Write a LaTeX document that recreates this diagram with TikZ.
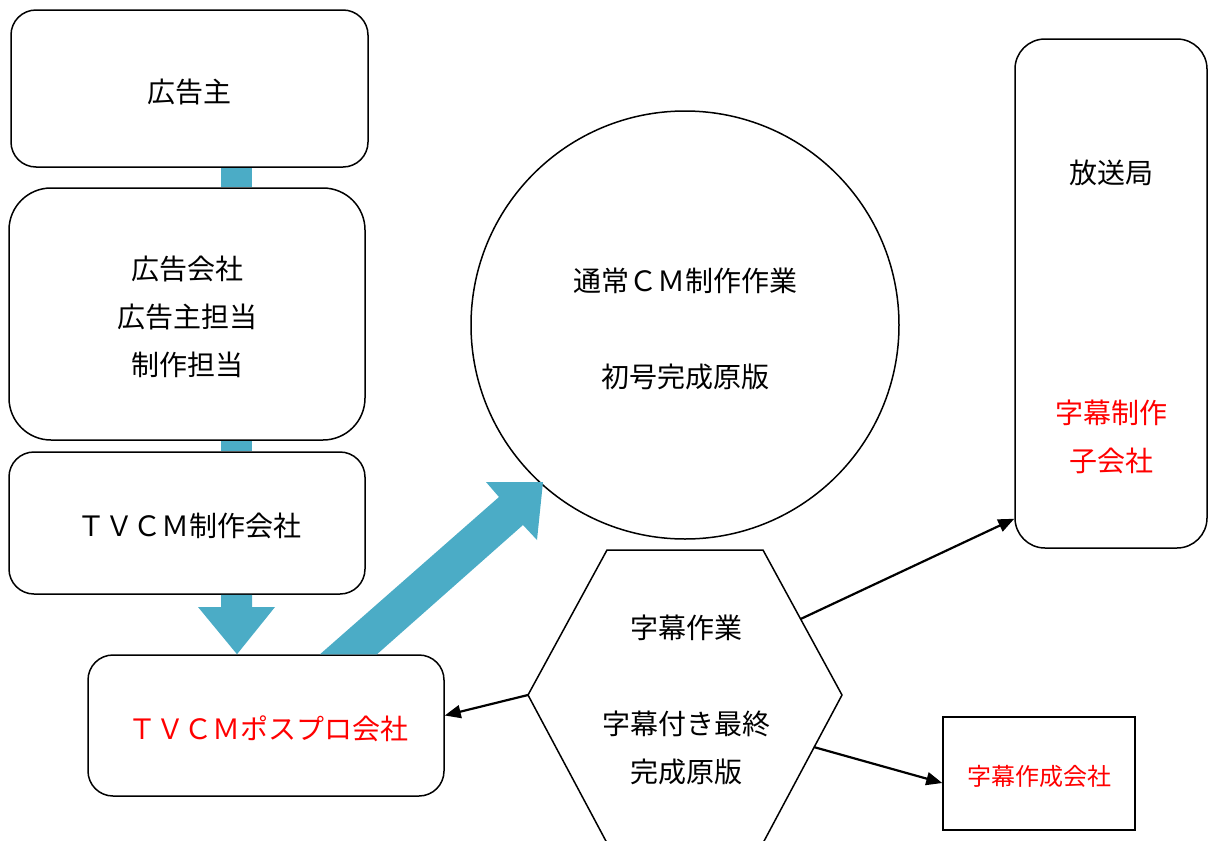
\documentclass[tikz,border=0pt]{standalone}
\usepackage{fontspec}
\newfontfamily\jp{Noto Sans CJK JP}
\usetikzlibrary{arrows.meta}
\definecolor{flow}{HTML}{4BACC6}
\definecolor{redtxt}{HTML}{FF0000}
\begin{document}
\begin{tikzpicture}[x=1pt,y=-1pt,
  box/.style={draw, line width=1.5pt, rounded corners=25pt, inner sep=0pt},
  lbl/.style={font=\jp\fontsize{28}{48}\selectfont, align=center, inner sep=0pt},
  small/.style={font=\jp\fontsize{24}{30}\selectfont, align=center, inner sep=0pt},
  link/.style={line width=2.2pt, -{Triangle[length=16pt,width=13pt]}}]
\useasboundingbox (0,0) rectangle (1208,841);
% boxes
\node[box, minimum width=357pt, minimum height=157pt] (adv) at (189.5,88.5) {};
\node[lbl] (advlbl) at ([yshift=-3pt]adv.center) {広告主};
\node[box, rounded corners=42pt, minimum width=356pt, minimum height=252pt] (agency) at (187,314) {};
\node[lbl] (agencylbl) at (187,317) {広告会社\\広告主担当\\制作担当};
\node[box, minimum width=356pt, minimum height=142pt] (tvcm) at (187,523) {};
\node[lbl] (tvcmlbl) at (189,526) {ＴＶＣＭ制作会社};
\node[box, minimum width=356pt, minimum height=141pt] (post) at (266,725.5) {};
\node[lbl, text=redtxt] (postlbl) at (268,729) {ＴＶＣＭポスプロ会社};
\node[draw, circle, line width=1.5pt, minimum size=428pt] (circ) at (685,325) {};
\node[lbl] (circlbl) at (685,328.5) {通常ＣＭ制作作業\\[48pt]初号完成原版};
\node[box, rounded corners=30pt, minimum width=192pt, minimum height=509pt] (station) at (1111,293.5) {};
\node[lbl] (stationlbl) at (1111,173) {放送局};
\node[lbl, text=redtxt] (sublbl) at (1111,437) {字幕制作\\子会社};
\node[draw, line width=1.5pt, minimum width=192pt, minimum height=113pt, inner sep=0pt] (sub) at (1039,773.5) {};
\node[small, text=redtxt] (sublabel) at (1039,776) {字幕作成会社};
% hexagon
\coordinate (hL) at (528,695);
\coordinate (hTL) at (607,550);
\coordinate (hTR) at (763,550);
\coordinate (hR) at (842,695);
\coordinate (hBR) at (763,843);
\coordinate (hBL) at (607,843);
\draw[line width=1.5pt, line join=miter] (hL) -- (hTL) -- (hTR) -- (hR) -- (hBR) -- (hBL) -- cycle;
\node[lbl] (hex) at (686,700) {字幕作業\\[48pt]字幕付き最終\\完成原版};
\coordinate (hUp) at (800.6,619);
\coordinate (hDn) at (813.7,747);
% blue flow connectors
\fill[flow] (221,0 |- adv.south) rectangle (252,0 |- agency.north);
\fill[flow] (221,0 |- agency.south) rectangle (252,0 |- tvcm.north);
\fill[flow] (221,0 |- tvcm.south) -- (252,0 |- tvcm.south) -- (252,607) -- (275,607) -- (237,0 |- post.north) -- (198,607) -- (221,607) -- cycle;
\fill[flow] (320,0 |- post.north) -- (499,497) -- (486,482) -- (543,482) -- (537,540) -- (523,525) -- (377,0 |- post.north) -- cycle;
% black arrows
\draw[link] (hUp) -- ([yshift=30pt]station.south west);
\draw[link] (hL) -- ([yshift=10pt]post.east);
\draw[link] (hDn) -- ([yshift=-9.5pt]sub.west);
\end{tikzpicture}
\end{document}
